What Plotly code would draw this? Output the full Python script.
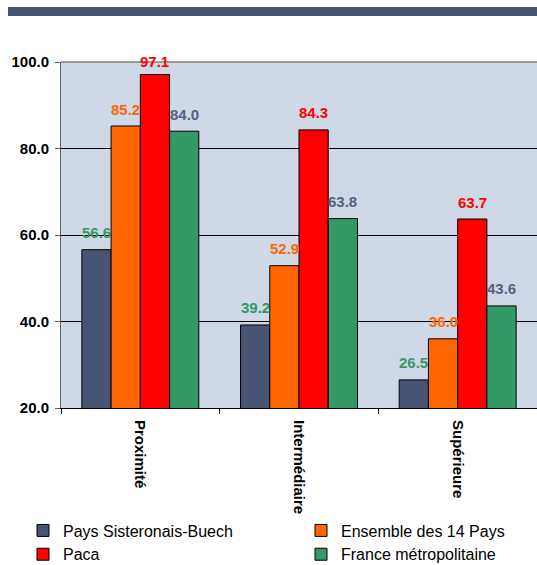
import plotly.graph_objects as go

categories = ["Proximité", "Intermédiaire", "Supérieure"]
series_names = ["Pays Sisteronais-Buech", "Ensemble des 14 Pays", "Paca", "France métropolitaine"]
pays_sisteronais = [56.6, 39.2, 26.5]
ensemble_14 = [85.2, 52.9, 36.0]
paca = [97.1, 84.3, 63.7]
france_metro = [84.0, 63.8, 43.6]
y_ticks = [20, 40, 60, 80, 100]

series_values = [pays_sisteronais, ensemble_14, paca, france_metro]
bar_colors = ["#485473", "#FF6600", "#FF0000", "#339966"]
label_colors = ["#339966", "#FF6600", "#FF0000", "#57607E"]
legend_ids = ["legend", "legend2", "legend", "legend2"]

FONT = "Arial, Liberation Sans, sans-serif"
BARGAP = 0.263
Y_MIN, Y_MAX = 20, 100
PLOT_H = 346
LABEL_OFFSET_PX = 17

fig = go.Figure()
for name, vals, col, lg in zip(series_names, series_values, bar_colors, legend_ids):
    fig.add_trace(go.Bar(
        name=name, x=categories, y=vals, legend=lg,
        marker=dict(color=col, line=dict(color="black", width=1)),
        hoverinfo="skip",
    ))

# value labels (kept inside the plot top, as in the original)
n = len(series_names)
bw = (1 - BARGAP) / n
px_per_unit = PLOT_H / (Y_MAX - Y_MIN)
annotations = []
for i, (vals, lc) in enumerate(zip(series_values, label_colors)):
    for j, v in enumerate(vals):
        shift = min(LABEL_OFFSET_PX, (Y_MAX - v) * px_per_unit)
        annotations.append(dict(
            x=j + (i - (n - 1) / 2) * bw, y=v, xref="x", yref="y",
            text=f"<b>{v:.1f}</b>", showarrow=False, yshift=shift,
            yanchor="middle", xanchor="center",
            font=dict(family=FONT, size=15, color=lc),
        ))

legend_common = dict(
    orientation="v", y=-0.305, xanchor="left", yanchor="top",
    font=dict(family=FONT, size=16, color="black"),
    itemwidth=30, bgcolor="rgba(0,0,0,0)", traceorder="normal",
)

fig.update_layout(
    width=537, height=565,
    margin=dict(l=61, r=0, t=62, b=157, autoexpand=False),
    paper_bgcolor="white",
    plot_bgcolor="#CFD8E6",
    barmode="group", bargap=BARGAP, bargroupgap=0,
    font=dict(family=FONT, size=15, color="black"),
    annotations=annotations,
    showlegend=True,
    legend=dict(x=(23 - 61) / 476, **legend_common),
    legend2=dict(x=(301 - 61) / 476, **legend_common),
    shapes=[
        dict(type="rect", xref="paper", yref="paper",
             x0=(8 - 61) / 476, x1=1.0, y0=(408 - 16) / 346, y1=(408 - 7) / 346,
             fillcolor="#485473", line=dict(width=0), layer="above"),
        dict(type="line", xref="paper", yref="paper",
             x0=0, x1=1, y0=1, y1=1, line=dict(color="#808080", width=1.5), layer="above"),
    ],
)

fig.update_yaxes(
    range=[Y_MIN, Y_MAX], tickvals=y_ticks, tickformat=".1f",
    showgrid=True, gridcolor="black", gridwidth=1,
    showline=True, linecolor="#606060", linewidth=1,
    ticks="outside", ticklen=5, tickcolor="#606060", ticklabelstandoff=3,
    tickfont=dict(family=FONT, size=15, color="black", weight="bold"),
    zeroline=False, automargin=False,
)
fig.update_xaxes(
    showline=True, linecolor="black", linewidth=1,
    ticks="outside", ticklen=5, tickcolor="black", tickson="boundaries",
    tickangle=90, ticklabelstandoff=8,
    tickfont=dict(family=FONT, size=15, color="black", weight="bold"),
    automargin=False,
)

fig.write_html(
    "out.html",
    config={"displayModeBar": False},
    post_script="document.body.style.margin='0';document.body.style.overflow='hidden';",
)
